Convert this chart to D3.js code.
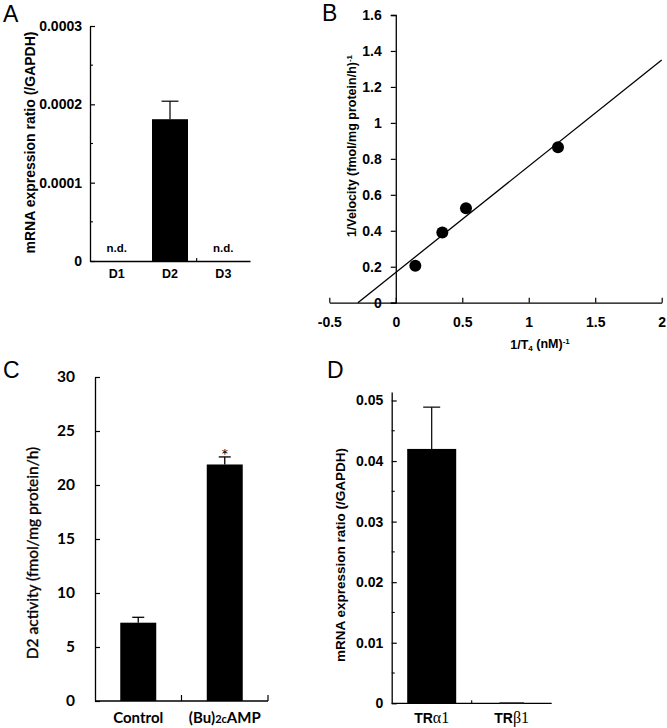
<!DOCTYPE html>
<html>
<head>
<meta charset="utf-8">
<script src="https://cdn.jsdelivr.net/npm/d3@7"></script>
<style>
  body { margin: 0; background: #fff; }
  svg { display: block; }
  .ar text { font-family: "Liberation Sans", Arial, sans-serif; font-weight: bold; }
  .cal text { font-family: Lato, "Open Sans", sans-serif; font-weight: bold; }
</style>
</head>
<body>
<script>
// ---------- Data ----------
// Panel A
const aCategories = ["D1", "D2", "D3"];
const aValues = [null, 0.000181, null];   // null = n.d.
const aErrors = [null, 0.000023, null];
const aTicks = [0, 0.0001, 0.0002, 0.0003];
const aMinorTicks = [0.00005, 0.00015, 0.00025];

// Panel B (Lineweaver-Burk)
const bPointsX = [0.147, 0.350, 0.528, 1.220];
const bPointsY = [0.206, 0.391, 0.525, 0.864];
const bLineX = [-0.285, 2];
const bLineY = [0, 1.35];
const bXTicks = [-0.5, 0, 0.5, 1, 1.5, 2];
const bYTicks = [0, 0.2, 0.4, 0.6, 0.8, 1, 1.2, 1.4, 1.6];

// Panel C
const cCategories = ["Control", "(Bu)2cAMP"];
const cValues = [7.25, 21.9];
const cErrors = [0.5, 0.7];
const cSignificant = [false, true];
const cTicks = [0, 5, 10, 15, 20, 25, 30];

// Panel D
const dCategories = ["TRα1", "TRβ1"];
const dValues = [0.0420, 0.0002];
const dErrors = [0.0069, 0];
const dTicks = [0, 0.01, 0.02, 0.03, 0.04, 0.05];
const dMinorTicks = [0.005, 0.015, 0.025, 0.035, 0.045];

// ---------- Drawing ----------
const svg = d3.select("body").append("svg").attr("width", 667).attr("height", 728);
svg.append("rect").attr("width", 667).attr("height", 728).attr("fill", "#fff");

function styleAxis(g, fontSize) {
  g.selectAll("path.domain").attr("stroke", "#000").attr("stroke-width", 1.3);
  g.selectAll(".tick line").attr("stroke", "#000").attr("stroke-width", 1.2);
  g.selectAll(".tick text").attr("fill", "#000").style("font-size", fontSize + "px");
}
function panelLabel(t, x, y) {
  svg.append("text").attr("x", x).attr("y", y).text(t)
    .style("font-family", "'Liberation Sans', Arial, sans-serif")
    .style("font-size", "23px").attr("fill", "#000");
}

// ===== Panel A =====
{
  const g = svg.append("g").attr("class", "ar");
  const y = d3.scaleLinear().domain([0, 0.0003]).range([261, 26]);
  const x = d3.scaleBand().domain(aCategories).range([90, 250]).paddingInner(0.325).paddingOuter(0.1625);
  const ya = g.append("g").attr("transform", "translate(90,0)")
    .call(d3.axisLeft(y).tickValues(aTicks).tickFormat(d => d === 0 ? "0" : d3.format(".4f")(d))
      .tickSizeInner(-5).tickSizeOuter(0).tickPadding(8));
  styleAxis(ya, 14);
  g.selectAll(".minorA").data(aMinorTicks).join("line")
    .attr("x1", 90).attr("x2", 93).attr("y1", d => y(d)).attr("y2", d => y(d))
    .attr("stroke", "#000").attr("stroke-width", 1.1);
  const xa = g.append("g").attr("transform", `translate(0,${y(0)})`)
    .call(d3.axisBottom(x).tickSize(0).tickPadding(8));
  styleAxis(xa, 12.5);
  // boundary tick between D2 and D3
  const bx = x("D2") + x.bandwidth() / 2 + x.step() / 2;
  g.append("line").attr("x1", bx).attr("x2", bx).attr("y1", y(0)).attr("y2", y(0) - 3)
    .attr("stroke", "#000").attr("stroke-width", 1.1);
  aCategories.forEach((c, i) => {
    const cx = x(c) + x.bandwidth() / 2;
    if (aValues[i] == null) {
      g.append("text").attr("x", cx).attr("y", 252).attr("text-anchor", "middle")
        .style("font-size", "11.5px").text("n.d.");
    } else {
      g.append("rect").attr("x", x(c)).attr("width", x.bandwidth())
        .attr("y", y(aValues[i])).attr("height", y(0) - y(aValues[i])).attr("fill", "#000");
      const top = y(aValues[i] + aErrors[i]);
      g.append("line").attr("x1", cx).attr("x2", cx).attr("y1", y(aValues[i])).attr("y2", top)
        .attr("stroke", "#000").attr("stroke-width", 1.2);
      g.append("line").attr("x1", cx - 8.5).attr("x2", cx + 8.5).attr("y1", top).attr("y2", top)
        .attr("stroke", "#000").attr("stroke-width", 1.2);
    }
  });
  g.append("text").attr("transform", "translate(30,142.5) rotate(-90)")
    .attr("text-anchor", "middle").attr("dy", "0.35em").style("font-size", "14px")
    .text("mRNA expression ratio (/GAPDH)");
  panelLabel("A", 3, 22);
}

// ===== Panel B =====
{
  const g = svg.append("g").attr("class", "ar");
  const x = d3.scaleLinear().domain([-0.5, 2]).range([329.3, 661.7]);
  const y = d3.scaleLinear().domain([0, 1.6]).range([302.7, 15]);
  const xa = g.append("g").attr("transform", `translate(0,${y(0)})`)
    .call(d3.axisBottom(x).tickValues(bXTicks).tickFormat(d => String(d))
      .tickSizeInner(-5).tickSizeOuter(0).tickPadding(14));
  styleAxis(xa, 14);
  const ya = g.append("g").attr("transform", `translate(${x(0)},0)`)
    .call(d3.axisLeft(y).tickValues(bYTicks).tickFormat(d => String(d))
      .tickSize(5).tickPadding(9));
  styleAxis(ya, 14);
  const line = d3.line().x(d => x(d[0])).y(d => y(d[1]));
  g.append("path").datum(bLineX.map((v, i) => [v, bLineY[i]])).attr("d", line)
    .attr("fill", "none").attr("stroke", "#000").attr("stroke-width", 1.3);
  g.selectAll(".pt").data(bPointsX.map((v, i) => [v, bPointsY[i]])).join("circle")
    .attr("cx", d => x(d[0])).attr("cy", d => y(d[1])).attr("r", 6).attr("fill", "#000");
  const yt = g.append("text").attr("transform", "translate(351.7,146) rotate(-90)")
    .attr("text-anchor", "middle").attr("dy", "0.35em").style("font-size", "12.5px");
  yt.append("tspan").text("1/Velocity (fmol/mg protein/h)");
  yt.append("tspan").attr("dy", "-0.45em").style("font-size", "8px").text("-1");
  const xt = g.append("text").attr("x", 540).attr("y", 349).attr("text-anchor", "middle")
    .style("font-size", "12.5px");
  xt.append("tspan").text("1/T");
  xt.append("tspan").attr("dy", "0.3em").style("font-size", "8px").text("4");
  xt.append("tspan").attr("dy", "-0.3em").text(" (nM)");
  xt.append("tspan").attr("dy", "-0.45em").style("font-size", "8px").text("-1");
  panelLabel("B", 322, 21);
}

// ===== Panel C =====
{
  const g = svg.append("g").attr("class", "cal");
  const y = d3.scaleLinear().domain([0, 30]).range([701, 377]);
  const x = d3.scaleBand().domain(cCategories).range([95, 268]).paddingInner(0.584).paddingOuter(0.292);
  const ya = g.append("g").attr("transform", "translate(95,0)")
    .call(d3.axisLeft(y).tickValues(cTicks).tickSizeInner(-5).tickSizeOuter(0).tickPadding(20));
  styleAxis(ya, 15.5);
  g.append("line").attr("x1", 95).attr("x2", 268).attr("y1", y(0)).attr("y2", y(0))
    .attr("stroke", "#000").attr("stroke-width", 1.3);
  cCategories.forEach((c, i) => {
    const bx = x(c) + x.bandwidth() / 2 + x.step() / 2;
    g.append("line").attr("x1", bx).attr("x2", bx).attr("y1", y(0)).attr("y2", y(0) - 6)
      .attr("stroke", "#000").attr("stroke-width", 1.2);
    const cx = x(c) + x.bandwidth() / 2;
    g.append("rect").attr("x", x(c)).attr("width", x.bandwidth())
      .attr("y", y(cValues[i])).attr("height", y(0) - y(cValues[i])).attr("fill", "#000");
    const top = y(cValues[i] + cErrors[i]);
    g.append("line").attr("x1", cx).attr("x2", cx).attr("y1", y(cValues[i])).attr("y2", top)
      .attr("stroke", "#000").attr("stroke-width", 1.3);
    g.append("line").attr("x1", cx - 6).attr("x2", cx + 6).attr("y1", top).attr("y2", top)
      .attr("stroke", "#000").attr("stroke-width", 1.3);
    if (cSignificant[i]) {
      g.append("text").attr("x", cx).attr("y", top + 5).attr("text-anchor", "middle")
        .style("font-size", "18px").style("font-weight", "normal").text("*");
    }
    const t = g.append("text").attr("x", cx).attr("y", 723).attr("text-anchor", "middle")
      .style("font-size", "15px");
    const m = c.match(/^(\(Bu\))(2c)(AMP)$/);
    if (m) {
      t.append("tspan").text(m[1]);
      t.append("tspan").style("font-size", "11px").text(m[2]);
      t.append("tspan").text(m[3]);
    } else t.text(c);
  });
  g.append("text").attr("transform", "translate(33,553) rotate(-90)")
    .attr("text-anchor", "middle").attr("dy", "0.35em")
    .style("font-size", "15.5px").style("font-weight", "normal")
    .attr("stroke", "#000").attr("stroke-width", 0.35)
    .text("D2 activity (fmol/mg protein/h)");
  panelLabel("C", 3, 378);
}

// ===== Panel D =====
{
  const g = svg.append("g").attr("class", "ar");
  const y = d3.scaleLinear().domain([0, 0.0514]).range([703.3, 392]);
  const x = d3.scaleBand().domain(dCategories).range([391.7, 551.7]).paddingInner(0.3875).paddingOuter(0.19375);
  const ya = g.append("g").attr("transform", "translate(391.7,0)")
    .call(d3.axisLeft(y).tickValues(dTicks).tickFormat(d => d === 0 ? "0" : d3.format(".2f")(d))
      .tickSizeInner(-5).tickSizeOuter(0).tickPadding(8.5));
  styleAxis(ya, 14);
  g.selectAll(".minorD").data(dMinorTicks).join("line")
    .attr("x1", 391.7).attr("x2", 394.7).attr("y1", d => y(d)).attr("y2", d => y(d))
    .attr("stroke", "#000").attr("stroke-width", 1.1);
  g.append("line").attr("x1", 391.7).attr("x2", 551.7).attr("y1", y(0)).attr("y2", y(0))
    .attr("stroke", "#000").attr("stroke-width", 1.3);
  const mid = x(dCategories[0]) + x.bandwidth() / 2 + x.step() / 2;
  g.append("line").attr("x1", mid).attr("x2", mid).attr("y1", y(0)).attr("y2", y(0) - 3)
    .attr("stroke", "#000").attr("stroke-width", 1.1);
  dCategories.forEach((c, i) => {
    const cx = x(c) + x.bandwidth() / 2;
    const w = i === 0 ? x.bandwidth() : x.bandwidth() * 0.5;
    g.append("rect").attr("x", cx - w / 2).attr("width", w)
      .attr("y", y(dValues[i])).attr("height", y(0) - y(dValues[i]))
      .attr("fill", i === 0 ? "#000" : "#444");
    if (dErrors[i] > 0) {
      const top = y(dValues[i] + dErrors[i]);
      g.append("line").attr("x1", cx).attr("x2", cx).attr("y1", y(dValues[i])).attr("y2", top)
        .attr("stroke", "#000").attr("stroke-width", 1.2);
      g.append("line").attr("x1", cx - 8.5).attr("x2", cx + 8.5).attr("y1", top).attr("y2", top)
        .attr("stroke", "#000").attr("stroke-width", 1.2);
    }
    const t = g.append("text").attr("x", cx).attr("y", 723).attr("text-anchor", "middle")
      .style("font-size", "14px");
    t.append("tspan").text(c.slice(0, 2));
    t.append("tspan").style("font-family", "'Liberation Serif', 'Times New Roman', serif")
      .style("font-weight", "normal").style("font-size", "16px").text(c.slice(2));
  });
  g.append("text").attr("transform", "translate(340,555) rotate(-90)")
    .attr("text-anchor", "middle").attr("dy", "0.35em").style("font-size", "13.5px")
    .text("mRNA expression ratio (/GAPDH)");
  panelLabel("D", 327, 378);
}
</script>
</body>
</html>
